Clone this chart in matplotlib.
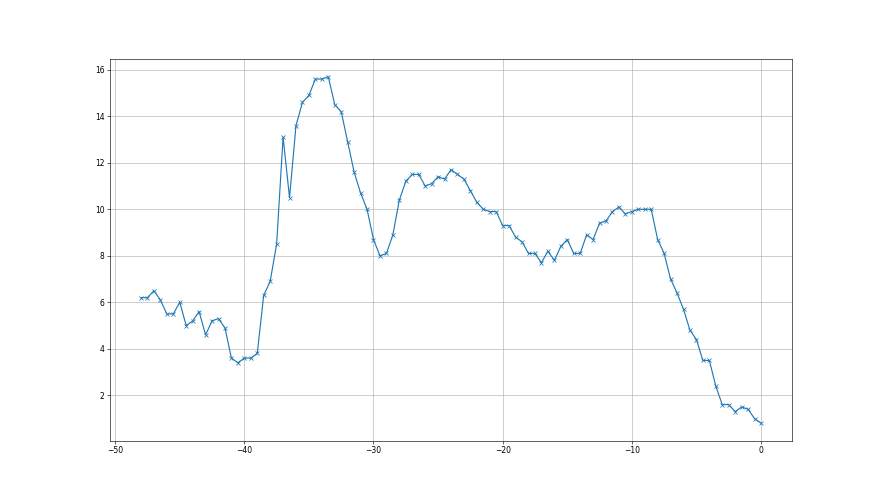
import matplotlib
matplotlib.use("Agg")
import matplotlib.pyplot as plt
import numpy as np

# x runs from -48 to 0 in steps of 0.5
x = np.arange(-48, 0.01, 0.5)
y = [6.2, 6.2, 6.5, 6.1, 5.5, 5.5, 6.0, 5.0, 5.2, 5.6,
     4.6, 5.2, 5.3, 4.9, 3.6, 3.4, 3.6, 3.6, 3.8, 6.3,
     6.9, 8.5, 13.1, 10.5, 13.6, 14.6, 14.9, 15.6, 15.6, 15.7,
     14.5, 14.2, 12.9, 11.6, 10.7, 10.0, 8.7, 8.0, 8.1, 8.9,
     10.4, 11.2, 11.5, 11.5, 11.0, 11.1, 11.4, 11.3, 11.7, 11.5,
     11.3, 10.8, 10.3, 10.0, 9.9, 9.9, 9.3, 9.3, 8.8, 8.6,
     8.1, 8.1, 7.7, 8.2, 7.8, 8.4, 8.7, 8.1, 8.1, 8.9,
     8.7, 9.4, 9.5, 9.9, 10.1, 9.8, 9.9, 10.0, 10.0, 10.0,
     8.7, 8.1, 7.0, 6.4, 5.7, 4.8, 4.4, 3.5, 3.5, 2.4,
     1.6, 1.6, 1.3, 1.5, 1.4, 1.0, 0.8]

plt.figure(figsize=(16, 9), dpi=55)
plt.plot(x, y, marker="x")
plt.grid()
plt.savefig("out.png", dpi=55)
